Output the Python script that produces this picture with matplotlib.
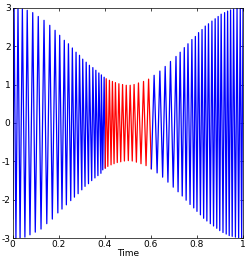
import matplotlib
matplotlib.use('Agg')
from matplotlib import pyplot as plt
import numpy as np

# peaks (maxima) of the oscillation
top_t = [0.006, 0.023, 0.042, 0.063, 0.087, 0.111, 0.136, 0.161, 0.184, 0.204,
         0.224, 0.242, 0.259, 0.275, 0.290, 0.304, 0.319, 0.333, 0.348, 0.361,
         0.374, 0.385, 0.397, 0.406, 0.420, 0.433, 0.446, 0.461, 0.477, 0.493,
         0.510, 0.527, 0.546, 0.568, 0.590, 0.614, 0.639, 0.662, 0.685, 0.709,
         0.727, 0.745, 0.761, 0.778, 0.793, 0.807, 0.822, 0.836, 0.850, 0.865,
         0.879, 0.892, 0.905, 0.920, 0.933, 0.946, 0.959, 0.974, 0.988, 1.000]
top_v = [2.99, 2.97, 2.96, 2.93, 2.87, 2.77, 2.67, 2.54, 2.41, 2.28,
         2.15, 2.06, 1.95, 1.84, 1.76, 1.66, 1.58, 1.50, 1.44, 1.37,
         1.30, 1.25, 1.19, 1.15, 1.11, 1.08, 1.05, 1.02, 1.00, 0.98,
         0.98, 1.00, 1.04, 1.08, 1.14, 1.24, 1.35, 1.47, 1.60, 1.73,
         1.84, 1.96, 2.06, 2.17, 2.25, 2.35, 2.43, 2.52, 2.58, 2.65,
         2.71, 2.77, 2.83, 2.87, 2.91, 2.94, 2.96, 2.98, 3.00, 3.00]

# troughs (minima)
bot_t = [0.000, 0.014, 0.032, 0.053, 0.075, 0.098, 0.123, 0.148, 0.172, 0.196,
         0.214, 0.233, 0.252, 0.268, 0.284, 0.300, 0.314, 0.329, 0.343, 0.357,
         0.370, 0.383, 0.391, 0.402, 0.413, 0.427, 0.440, 0.454, 0.469, 0.485,
         0.502, 0.519, 0.537, 0.557, 0.579, 0.602, 0.627, 0.651, 0.674, 0.697,
         0.718, 0.736, 0.753, 0.770, 0.786, 0.800, 0.815, 0.829, 0.843, 0.858,
         0.872, 0.886, 0.899, 0.913, 0.927, 0.940, 0.953, 0.967, 0.981, 0.994]
bot_v = [-2.50, -3.00, -3.00, -2.97, -2.91, -2.84, -2.76, -2.62, -2.50, -2.34,
         -2.24, -2.13, -2.02, -1.93, -1.84, -1.74, -1.65, -1.58, -1.50, -1.43,
         -1.37, -1.31, -1.22, -1.17, -1.13, -1.09, -1.06, -1.03, -1.01, -0.99,
         -0.98, -0.99, -1.02, -1.06, -1.11, -1.19, -1.30, -1.41, -1.54, -1.67,
         -1.79, -1.90, -2.01, -2.12, -2.21, -2.30, -2.39, -2.48, -2.55, -2.62,
         -2.68, -2.74, -2.80, -2.85, -2.89, -2.93, -2.95, -2.97, -2.99, -3.00]

red_span = (0.4, 0.6)
xticks = [0, 0.2, 0.4, 0.6, 0.8, 1]
yticks = [-3, -2, -1, 0, 1, 2, 3]

plt.rcParams['font.size'] = 6.5
plt.rcParams['axes.unicode_minus'] = False

t = np.array(top_t + bot_t)
v = np.array(top_v + bot_v)
order = np.argsort(t, kind='stable')
t, v = t[order], v[order]

i0 = np.searchsorted(t, red_span[0])
i1 = np.searchsorted(t, red_span[1])

fig = plt.figure(figsize=(2.49, 2.63), dpi=100)
ax = fig.add_axes([0.051, 0.094, 0.925, 0.877])

ax.plot(t[:i0 + 1], v[:i0 + 1], color='b', lw=0.9)
ax.plot(t[i0:i1 + 1], v[i0:i1 + 1], color='r', lw=0.9)
ax.plot(t[i1:], v[i1:], color='b', lw=0.9)

ax.set_xlim(0, 1)
ax.set_ylim(-3, 3)
ax.set_xticks(xticks)
ax.set_xticklabels(['0', '0.2', '0.4', '0.6', '0.8', '1'])
ax.set_yticks(yticks)
ax.tick_params(direction='in', length=2.5, width=0.5, top=True, right=True, pad=1.5)
for spine in ax.spines.values():
    spine.set_linewidth(0.5)
ax.set_xlabel('Time', labelpad=0)

plt.savefig('out.png', dpi=100)
